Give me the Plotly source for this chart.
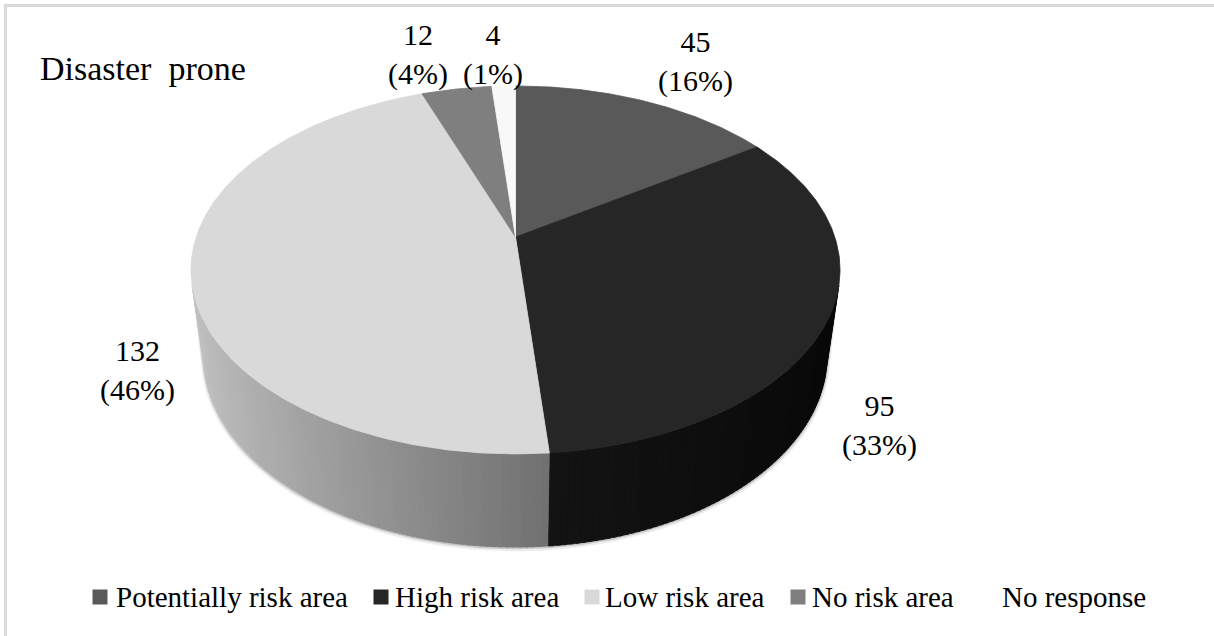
import numpy as np
import plotly.graph_objects as go

# ---- data ---------------------------------------------------------------
categories = ["Potentially risk area", "High risk area", "Low risk area",
              "No risk area", "No response"]
counts = [45, 95, 132, 12, 4]
slice_colors = ["#595959", "#262626", "#d9d9d9", "#7f7f7f", "#f8f8f8"]
legend_colors = ["#595959", "#262626", "#d9d9d9", "#7f7f7f", "#ffffff"]
chart_title = "Disaster\u00a0 prone"

# ---- canvas (axes run in screen pixels) ---------------------------------
W, H = 1214, 636
PAD = 7          # frame inset: the axis lines draw the chart-area border
FONT = "Liberation Serif, Times New Roman, serif"

# perspective camera looking down on the pie; lengths in pie radii
CX, CY = 515.5, 237.0
ELEV = np.radians(33.9)
DIST = 4.637
FOCAL = 1480.6
THICK = 0.336


def project(phi_deg, r=1.0, y=0.0):
    """Screen position of a pie point: angle clockwise from 12 o'clock."""
    p = np.radians(np.asarray(phi_deg, dtype=float))
    X = r * np.sin(p)
    Z = r * np.cos(p)
    depth = DIST + Z * np.cos(ELEV) - y * np.sin(ELEV)
    sx = CX + FOCAL * X / depth
    sy = CY - FOCAL * (y * np.cos(ELEV) + Z * np.sin(ELEV)) / depth
    return sx, sy


def hex_rgb(h):
    h = h.lstrip("#")
    return np.array([int(h[i:i + 2], 16) for i in (0, 2, 4)], dtype=float)


def rgb_str(v):
    v = np.clip(np.round(v), 0, 255).astype(int)
    return f"rgb({v[0]},{v[1]},{v[2]})"


total = sum(counts)
spans = np.array([360.0 * c / total for c in counts])
starts = np.concatenate([[0.0], np.cumsum(spans)[:-1]])
ends = starts + spans

# the rim wall faces the camera only on the near side of the tangent points
edge = np.degrees(np.arccos(-1.0 / (DIST * np.cos(ELEV))))
vis_lo, vis_hi = edge, 360.0 - edge

fig = go.Figure()

# thin soft shadow around the side wall
for r_s, alpha in [(1.010, 0.07), (1.005, 0.16)]:
    ph_top = np.linspace(vis_lo, vis_hi, 200)
    tx, ty = project(ph_top, 1.0, 0.0)
    bx, by = project(ph_top[::-1], r_s, -THICK - (r_s - 1.0) * 0.6)
    fig.add_trace(go.Scatter(
        x=np.r_[tx, bx], y=np.r_[ty, by], mode="lines", fill="toself",
        line=dict(width=0), fillcolor=f"rgba(0,0,0,{alpha})",
        hoverinfo="skip", showlegend=False))

# side wall, shaded strip by strip (light comes from the left)
for i in range(len(counts)):
    a, b = max(starts[i], vis_lo), min(ends[i], vis_hi)
    if b <= a:
        continue
    n = max(2, int(np.ceil(b - a)))
    cuts = np.linspace(a, b, n + 1)
    step = cuts[1] - cuts[0]
    base = hex_rgb(slice_colors[i])
    for p0, p1 in zip(cuts[:-1], cuts[1:]):
        mid = 0.5 * (p0 + p1)
        f = np.clip(0.55 - 0.35 * np.sin(np.radians(mid)), 0.2, 1.0)
        col = rgb_str(base * f)
        q1 = min(p1 + 0.6 * step, b)
        tx, ty = project([p0, q1], 1.0, 0.0)
        bx, by = project([q1, p0], 1.0, -THICK)
        fig.add_trace(go.Scatter(
            x=np.r_[tx, bx, tx[:1]], y=np.r_[ty, by, ty[:1]],
            mode="lines", fill="toself", line=dict(width=0.6, color=col),
            fillcolor=col, hoverinfo="skip", showlegend=False))

# top face of each slice
cx0, cy0 = project([0.0], 0.0, 0.0)
for i in range(len(counts)):
    ph = np.linspace(starts[i], ends[i], max(3, int(spans[i] * 2) + 1))
    ax, ay = project(ph, 1.0, 0.0)
    fig.add_trace(go.Scatter(
        x=np.r_[cx0, ax, cx0], y=np.r_[cy0, ay, cy0],
        mode="lines", fill="toself",
        line=dict(width=0.8, color=slice_colors[i]),
        fillcolor=slice_colors[i], name=categories[i],
        hoverinfo="skip", showlegend=False))

# ---- value labels ---------------------------------------------------------
label_xy = [(695, 61), (879, 425), (137, 370), (418, 54), (493, 54)]
for c, (lx, ly) in zip(counts, label_xy):
    pct = round(100.0 * c / total)
    fig.add_annotation(
        x=lx, y=ly, text=f"{c}<br>({pct}%)", showarrow=False,
        xanchor="center", yanchor="middle",
        font=dict(family=FONT, size=30, color="#000000"))

# ---- legend -----------------------------------------------------------------
legend_marker_x = [100, 381, 592, 798, 986]
legend_text_x = [114, 393, 603, 810, 1000]
legend_y = 597
fig.add_trace(go.Scatter(
    x=legend_marker_x, y=[legend_y] * len(categories), mode="markers",
    marker=dict(symbol="square", size=15, color=legend_colors,
                line=dict(width=0)),
    hoverinfo="skip", showlegend=False))
for name, tx in zip(categories, legend_text_x):
    fig.add_annotation(
        x=tx, y=legend_y, text=name, showarrow=False,
        xanchor="left", yanchor="middle",
        font=dict(family=FONT, size=29, color="#000000"))

# ---- title ------------------------------------------------------------------
fig.add_annotation(
    x=38, y=68, text=chart_title, showarrow=False,
    xanchor="left", yanchor="middle",
    font=dict(family=FONT, size=34, color="#000000"))

frame_axis = dict(visible=True, showline=True, linecolor="#d9d9d9",
                  linewidth=2.5, showgrid=False, zeroline=False,
                  showticklabels=False, ticks="", fixedrange=True)

fig.update_layout(
    width=W, height=H, autosize=False,
    margin=dict(l=PAD, r=0, t=PAD, b=0),
    paper_bgcolor="#ffffff", plot_bgcolor="#ffffff",
    xaxis=dict(range=[PAD, W], side="top", **frame_axis),
    yaxis=dict(range=[H, PAD], side="left", **frame_axis),
    showlegend=False,
)

fig.write_html("out.html")
